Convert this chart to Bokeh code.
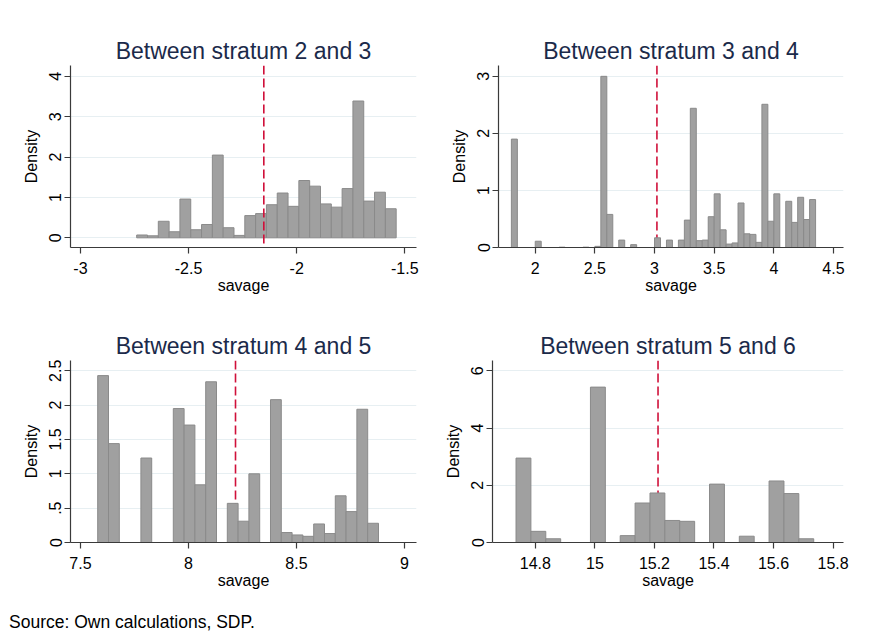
import numpy as np
from bokeh.plotting import figure
from bokeh.models import Range1d, FixedTicker, Div, ColumnDataSource, Span
from bokeh.layouts import column, row
from bokeh.embed import file_html
from bokeh.resources import INLINE

# ---------------- data ----------------
titles = ["Between stratum 2 and 3", "Between stratum 3 and 4",
          "Between stratum 4 and 5", "Between stratum 5 and 6"]

bin_width = 0.05

p1_bin_start = -2.74
p1_density = [0.07, 0.05, 0.41, 0.15, 0.96, 0.20, 0.33, 2.05, 0.25, 0.06, 0.55, 0.60,
              0.82, 1.11, 0.78, 1.42, 1.28, 0.84, 0.76, 1.22, 3.39, 0.91, 1.13, 0.72]

p2_bin_start = 1.80
p2_density = [1.90, 0, 0, 0, 0.11, 0, 0, 0, 0.006, 0, 0, 0, 0.006, 0, 0.02, 3.00, 0.58, 0,
              0.13, 0, 0.05, 0, 0, 0, 0.17, 0, 0.13, 0, 0.13, 0.48, 2.44, 0.12, 0.13, 0.54,
              0.94, 0.31, 0.06, 0.08, 0.78, 0.24, 0.23, 0.09, 2.51, 0.46, 0.94, 0, 0.81,
              0.44, 0.88, 0.49, 0.84]

p3_bin_start = 7.58
p3_density = [2.43, 1.44, 0, 0, 1.23, 0, 0, 1.95, 1.71, 0.84, 2.34, 0, 0.57, 0.31, 1.00,
              0, 2.08, 0.145, 0.11, 0.09, 0.27, 0.13, 0.68, 0.45, 1.94, 0.28]

p4_bin_start = 14.735
p4_density = [2.95, 0.39, 0.13, 0, 0, 5.43, 0, 0.24, 1.38, 1.73, 0.77, 0.74, 0, 2.04, 0,
              0.22, 0, 2.15, 1.71, 0.13]

cutoffs = [-2.152, 3.02, 8.218, 15.212]

p1_xticks = [-3, -2.5, -2, -1.5]
p1_xlabels = ["-3", "-2.5", "-2", "-1.5"]
p2_xticks = [2, 2.5, 3, 3.5, 4, 4.5]
p2_xlabels = ["2", "2.5", "3", "3.5", "4", "4.5"]
p3_xticks = [7.5, 8, 8.5, 9]
p3_xlabels = ["7.5", "8", "8.5", "9"]
p4_xticks = [14.8, 15, 15.2, 15.4, 15.6, 15.8]
p4_xlabels = ["14.8", "15", "15.2", "15.4", "15.6", "15.8"]

p1_yticks = [0, 1, 2, 3, 4]
p1_ylabels = ["0", "1", "2", "3", "4"]
p2_yticks = [0, 1, 2, 3]
p2_ylabels = ["0", "1", "2", "3"]
p3_yticks = [0, 0.5, 1, 1.5, 2, 2.5]
p3_ylabels = ["0", ".5", "1", "1.5", "2", "2.5"]
p4_yticks = [0, 2, 4, 6]
p4_ylabels = ["0", "2", "4", "6"]

FONT = "Liberation Sans"
TITLE_COLOR = "#1b2a4a"
BAR_FILL = "#a0a0a0"
BAR_LINE = "#8a8a8a"
CUT_COLOR = "#d0103a"
GRID_COLOR = "#e7eff2"


def panel(title, start, dens, cutoff, xr, yr, xticks, xlabels, yticks, ylabels,
          w, h, bl, br, bt, bb, line_on_top):
    p = figure(width=w, height=h, output_backend="svg", toolbar_location=None,
               x_range=Range1d(*xr), y_range=Range1d(*yr),
               min_border_left=bl, min_border_right=br,
               min_border_top=bt, min_border_bottom=bb)
    p.title.text = title
    p.title.align = "center"
    p.title.text_font = FONT
    p.title.text_font_size = "23px"
    p.title.text_font_style = "normal"
    p.title.text_color = TITLE_COLOR
    p.title.standoff = 4
    p.outline_line_color = None
    p.background_fill_color = "white"
    p.border_fill_color = "white"
    p.xgrid.visible = False
    p.ygrid.grid_line_color = GRID_COLOR
    p.ygrid.grid_line_width = 1.2
    p.ygrid.ticker = FixedTicker(ticks=yticks)

    dens = np.array(dens, dtype=float)
    left = start + bin_width * np.arange(len(dens))
    keep = dens > 0
    src = ColumnDataSource(dict(left=left[keep], right=left[keep] + bin_width,
                                top=dens[keep], bottom=np.zeros(keep.sum())))
    span = Span(location=cutoff, dimension="height", line_color=CUT_COLOR,
                line_dash="9 4", line_width=1.6,
                level="annotation" if line_on_top else "underlay")
    p.add_layout(span)
    p.quad(left="left", right="right", top="top", bottom="bottom", source=src,
           fill_color=BAR_FILL, line_color=BAR_LINE, line_width=1)

    for ax in (p.xaxis[0], p.yaxis[0]):
        ax.axis_line_color = "#3a3a3a"
        ax.axis_line_width = 1.2
        ax.major_tick_line_color = "#3a3a3a"
        ax.major_tick_line_width = 1.2
        ax.major_tick_out = 6
        ax.major_tick_in = 0
        ax.minor_tick_line_color = None
        ax.major_label_text_font = FONT
        ax.major_label_text_font_size = "16px"
        ax.major_label_text_color = "black"
        ax.axis_label_text_font = FONT
        ax.axis_label_text_font_size = "16px"
        ax.axis_label_text_font_style = "normal"
        ax.axis_label_text_color = "black"

    p.xaxis.ticker = FixedTicker(ticks=xticks)
    p.xaxis.major_label_overrides = {t: s for t, s in zip(xticks, xlabels)}
    p.xaxis.axis_label = "savage"
    p.xaxis.major_label_standoff = 8
    p.xaxis.axis_label_standoff = 0

    p.yaxis.ticker = FixedTicker(ticks=yticks)
    p.yaxis.major_label_overrides = {t: s for t, s in zip(yticks, ylabels)}
    p.yaxis.major_label_orientation = "vertical"
    p.yaxis.axis_label = "Density"
    p.yaxis.major_label_standoff = 3
    p.yaxis.axis_label_standoff = 7
    return p


p1 = panel(titles[0], p1_bin_start, p1_density, cutoffs[0], (-3.046, -1.446), (-0.24, 4.27),
           p1_xticks, p1_xlabels, p1_yticks, p1_ylabels, 430, 296, 63, 21, 57, 56, True)
p2 = panel(titles[1], p2_bin_start, p2_density, cutoffs[1], (1.692, 4.584), (0, 3.19),
           p2_xticks, p2_xlabels, p2_yticks, p2_ylabels, 414, 296, 61, 8, 58, 55, False)
p3 = panel(titles[2], p3_bin_start, p3_density, cutoffs[2], (7.454, 9.056), (0, 2.65),
           p3_xticks, p3_xlabels, p3_yticks, p3_ylabels, 430, 300, 63, 21, 57, 61, False)
p4 = panel(titles[3], p4_bin_start, p4_density, cutoffs[3], (14.656, 15.835), (0, 6.36),
           p4_xticks, p4_xlabels, p4_yticks, p4_ylabels, 414, 300, 55, 8, 57, 61, False)

note = Div(text="Source: Own calculations, SDP.", width=400, height=20,
           margin=(9, 0, 0, 2),
           styles={"font-family": FONT, "font-size": "17.5px", "color": "black",
                   "line-height": "20px"})

layout = column(row(p1, p2, spacing=0), row(p3, p4, spacing=0), note, spacing=0,
                margin=(7, 0, 0, 7))

open("out.html", "w").write(file_html(layout, INLINE))
